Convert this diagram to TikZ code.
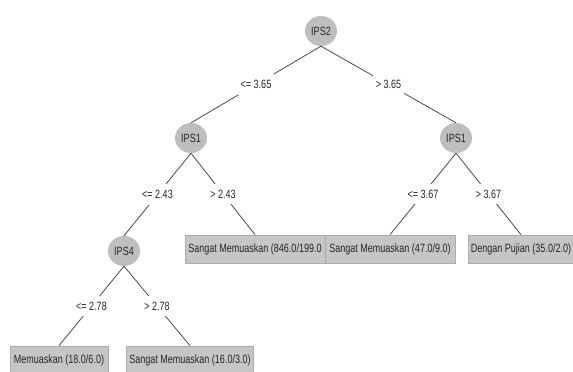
\documentclass[tikz,border=0pt]{standalone}
\usepackage{fontspec}
\setmainfont{Liberation Sans}[FakeStretch=0.75]
\usetikzlibrary{shapes.geometric}
\definecolor{nodegray}{HTML}{BEBEBE}
\definecolor{leafgray}{HTML}{C6C6C6}
\definecolor{leafedge}{HTML}{ACACAC}
\definecolor{linegray}{HTML}{4A4A4A}
\definecolor{txt}{HTML}{262626}
\tikzset{
  x=1pt, y=-1pt,
  every node/.style={font=\fontsize{12}{14}\selectfont, text=txt},
  splitnode/.style={ellipse, fill=nodegray, minimum width=32pt, minimum height=30pt, inner sep=0pt},
  leafbox/.style={rectangle, fill=leafgray, draw=leafedge, line width=0.6pt, minimum height=28pt, inner xsep=3pt, inner ysep=0pt},
  cond/.style={fill=white, inner xsep=3pt, inner ysep=6pt, midway},
  branch/.style={draw=linegray, line width=0.8pt}
}
\begin{document}
\begin{tikzpicture}
\useasboundingbox (0,0) rectangle (573,372);
% split nodes
\node[splitnode] (ips2) at (321,31) {IPS2};
\node[splitnode] (ipsL) at (191,138) {IPS1};
\node[splitnode] (ipsR) at (456,138) {IPS1};
\node[splitnode] (ips4) at (124,251) {IPS4};
% leaves
\node[leafbox, minimum width=140pt] (leafA) at (255,249) {Sangat Memuaskan (846.0/199.0};
\node[leafbox, minimum width=130pt] (leafB) at (390,249) {Sangat Memuaskan (47.0/9.0)};
\node[leafbox, minimum width=106pt] (leafC) at (521,249) {Dengan Pujian (35.0/2.0)};
\node[leafbox, minimum width=98pt] (leafD) at (59,360) {Memuaskan (18.0/6.0)};
\node[leafbox, minimum width=126pt] (leafE) at (190,360) {Sangat Memuaskan (16.0/3.0)};
% branches
\draw[branch] (ips2.south) -- node[cond] {<= 3.65} (ipsL.north);
\draw[branch] (ips2.south) -- node[cond] {> 3.65} (ipsR.north);
\draw[branch] (ipsL.south) -- node[cond] {<= 2.43} (ips4.north);
\draw[branch] (ipsL.south) -- node[cond] {> 2.43} (leafA.north);
\draw[branch] (ipsR.south) -- node[cond] {<= 3.67} (leafB.north);
\draw[branch] (ipsR.south) -- node[cond] {> 3.67} (leafC.north);
\draw[branch] (ips4.south) -- node[cond] {<= 2.78} (leafD.north);
\draw[branch] (ips4.south) -- node[cond] {> 2.78} (leafE.north);
\end{tikzpicture}
\end{document}
